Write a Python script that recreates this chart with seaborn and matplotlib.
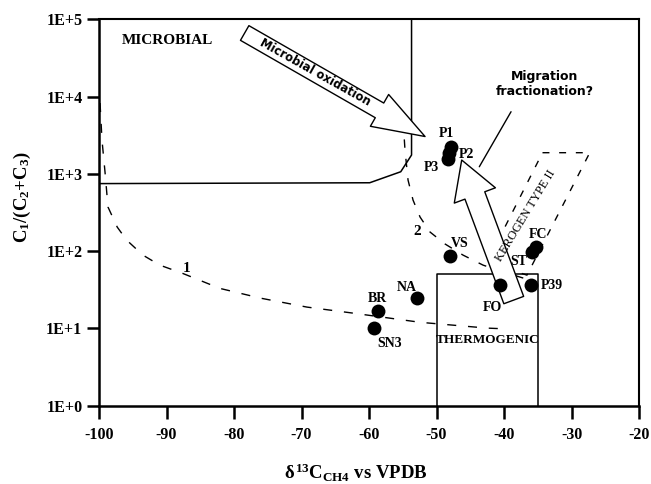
import numpy as np
import pandas as pd
import matplotlib
matplotlib.use("Agg")
import matplotlib.pyplot as plt
from matplotlib.ticker import FixedLocator, NullLocator
import seaborn as sns

sns.set_style("ticks")
plt.rcParams["font.family"] = ["Liberation Serif", "DejaVu Serif"]
plt.rcParams["font.weight"] = "bold"
plt.rcParams["mathtext.fontset"] = "custom"
plt.rcParams["mathtext.rm"] = "Liberation Serif:bold"
plt.rcParams["mathtext.it"] = "Liberation Serif:bold"
plt.rcParams["mathtext.bf"] = "Liberation Serif:bold"
for key in ["text.color", "axes.labelcolor", "xtick.color", "ytick.color", "axes.edgecolor"]:
    plt.rcParams[key] = "black"

# gas samples: d13C of methane and C1/(C2+C3)
SAMPLES = ["P1", "P2", "P3", "VS", "FC", "ST", "P39", "FO", "NA", "BR", "SN3"]
D13C = [-47.9, -48.1, -48.3, -48.0, -35.2, -35.9, -36.0, -40.6, -52.9, -58.7, -59.3]
RATIO = [2230, 1850, 1560, 86.5, 114, 98, 36.4, 36.4, 24.5, 16.7, 10.0]

X_TICKS = [-100, -90, -80, -70, -60, -50, -40, -30, -20]
Y_TICKS = [1, 10, 100, 1000, 10000, 100000]
Y_TICK_LABELS = ["1E+0", "1E+1", "1E+2", "1E+3", "1E+4", "1E+5"]

# genetic fields
MICROBIAL_X = [-100, -59.9, -55.3, -53.7, -53.7]
MICROBIAL_Y = [750, 769, 1068, 1758, 100000]
THERMO_X = [-50, -50, -35, -35]
THERMO_Y = [1, 50, 50, 1]
KEROGEN_X = [-34.3, -27.3, -36.6, -42.5, -34.3]
KEROGEN_Y = [1884, 1884, 49, 72, 1884]

# mixing curves 1 and 2
CURVE1_X = [-99.85, -99.56, -99.1, -98.67, -97.3, -95.9, -93.5, -91.0, -87.7,
            -82.1, -76.1, -69.2, -62.4, -52.4, -42.5, -40.1]
CURVE1_Y = [8280, 2750, 1030, 373, 205, 139, 89, 66, 52,
            33, 24.7, 18.9, 15.8, 12.0, 10.1, 9.9]
CURVE2_X = [-54.96, -54.67, -54.22, -53.48, -52.44, -50.96, -48.74, -46.07,
            -43.1, -40.15, -37.19, -35.7]
CURVE2_Y = [4990, 2040, 834, 459, 277, 177, 124, 89, 66, 54, 45, 41]

# label offsets (points) for each sample
LABEL_OFFSETS = {"P1": (-3, 10), "P2": (12, -0.5), "P3": (-12, -6), "VS": (7, 9),
                 "FC": (1, 8.5), "ST": (-9, -7), "P39": (15, 0), "FO": (-5.5, -16),
                 "NA": (-7, 8), "BR": (-0.5, 9.5), "SN3": (11.5, -10.5)}

df = pd.DataFrame({"sample": SAMPLES, "d13c": D13C, "ratio": RATIO})

fig = plt.figure(figsize=(6.51, 4.84), dpi=100)
ax = fig.add_axes([0.1521, 0.1618, 0.8295, 0.798])

ax.plot(MICROBIAL_X, MICROBIAL_Y, color="black", lw=1.1)
ax.plot(THERMO_X, THERMO_Y, color="black", lw=1.1)
ax.plot(KEROGEN_X, KEROGEN_Y, color="black", lw=1.0, linestyle=(0, (5, 7)))
ax.plot(CURVE1_X, CURVE1_Y, color="black", lw=1.0, linestyle=(0, (6.5, 8.5)))
ax.plot(CURVE2_X, CURVE2_Y, color="black", lw=1.0, linestyle=(0, (6, 8)))

sns.scatterplot(data=df, x="d13c", y="ratio", ax=ax, color="black", s=100,
                edgecolor="black", linewidth=0, zorder=5, legend=False)

for name, xv, yv in zip(SAMPLES, D13C, RATIO):
    ax.annotate(name, (xv, yv), xytext=LABEL_OFFSETS[name], textcoords="offset points",
                ha="center", va="center", fontsize=10, fontweight="bold")

# arrows
ax.annotate("", xy=(-51.7, 3052), xytext=(-78.42, 66800),
            arrowprops=dict(arrowstyle="simple,head_length=1.89,head_width=1.32,tail_width=0.61",
                            mutation_scale=20, fc="white", ec="black", lw=1,
                            shrinkA=0, shrinkB=0))
ax.text(-68.0, 20900, "Microbial oxidation", rotation=-29.2, rotation_mode="anchor",
        ha="center", va="center", fontsize=8.3, fontweight="bold", family=["DejaVu Sans"])

ax.annotate("", xy=(-46.27, 1514), xytext=(-38.56, 23.3),
            arrowprops=dict(arrowstyle="simple,head_length=1.36,head_width=1.58,tail_width=0.76",
                            mutation_scale=20, fc="white", ec="black", lw=1,
                            shrinkA=0, shrinkB=0), zorder=4)
ax.plot([-38.96, -43.66], [6390, 1240], color="black", lw=1.0)
ax.text(-33.93, 14600, "Migration\nfractionation?", ha="center", va="center",
        fontsize=9, fontweight="bold", family=["DejaVu Sans"], linespacing=1.2)

ax.text(-36.8, 285, "KEROGEN TYPE II", rotation=58.7, rotation_mode="anchor",
        ha="center", va="center", fontsize=9, fontweight="normal", zorder=7)
ax.text(-89.93, 54200, "MICROBIAL", ha="center", va="center", fontsize=11)
ax.text(-42.37, 7.05, "THERMOGENIC", ha="center", va="center", fontsize=9.5)
ax.text(-87.0, 59.8, "1", ha="center", va="center", fontsize=11)
ax.text(-52.93, 178, "2", ha="center", va="center", fontsize=11)

ax.set_yscale("log")
ax.set_xlim(-100, -20)
ax.set_ylim(1, 100000)
ax.xaxis.set_major_locator(FixedLocator(X_TICKS))
ax.set_xticklabels([str(t) for t in X_TICKS])
ax.yaxis.set_major_locator(FixedLocator(Y_TICKS))
ax.yaxis.set_minor_locator(NullLocator())
ax.set_yticklabels(Y_TICK_LABELS)

ax.tick_params(axis="both", direction="out", length=9, width=1.8, labelsize=11.5,
               top=False, right=False)
ax.tick_params(axis="x", pad=6)
ax.tick_params(axis="y", pad=3)
for side in ["left", "bottom"]:
    ax.spines[side].set_linewidth(1.8)
for side in ["top", "right"]:
    ax.spines[side].set_linewidth(1.5)

ax.set_xlabel(r"$\delta^{13}$C$_{\mathrm{CH4}}$ vs VPDB", fontsize=13.5, fontweight="bold")
ax.set_ylabel(r"C$_1$/(C$_2$+C$_3$)", fontsize=13.5, fontweight="bold")
ax.xaxis.set_label_coords(0.476, -0.145)
ax.yaxis.set_label_coords(-0.122, 0.54)

fig.savefig("out.png", dpi=100)
